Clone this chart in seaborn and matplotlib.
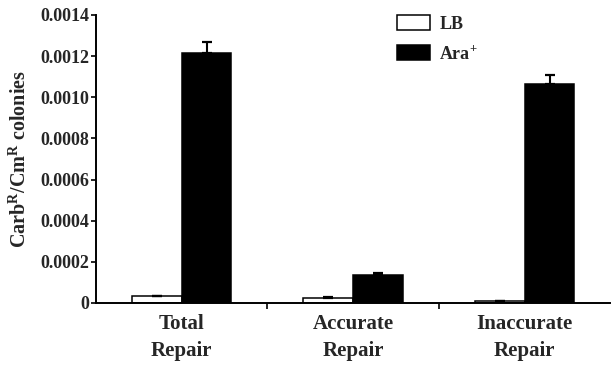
import matplotlib
matplotlib.use("Agg")
import matplotlib.pyplot as plt
import seaborn as sns
import pandas as pd
import numpy as np

# Values
categories = ["Total\nRepair", "Accurate\nRepair", "Inaccurate\nRepair"]
conditions = ["LB", "Ara$^{\\mathbf{+}}$"]
lbValues = [0.000033, 0.000026, 0.000008]
lbErrors = [0.000003, 0.000003, 0.000001]
araValues = [0.001217, 0.000134, 0.001065]
araErrors = [0.000050, 0.000010, 0.000044]
yTicks = [0, 0.0002, 0.0004, 0.0006, 0.0008, 0.0010, 0.0012, 0.0014]
yTickLabels = ["0", "0.0002", "0.0004", "0.0006", "0.0008", "0.0010", "0.0012", "0.0014"]

sns.set_theme(style = "ticks")
plt.rcParams["font.family"] = ["Liberation Serif", "DejaVu Serif"]
plt.rcParams["font.weight"] = "bold"
plt.rcParams["mathtext.fontset"] = "custom"
plt.rcParams["mathtext.rm"] = "Liberation Serif:bold"
plt.rcParams["mathtext.bf"] = "Liberation Serif:bold"
plt.rcParams["mathtext.it"] = "Liberation Serif:bold"

data = pd.DataFrame({
	"category": categories * 2,
	"condition": [conditions[0]] * 3 + [conditions[1]] * 3,
	"value": lbValues + araValues,
	"error": lbErrors + araErrors,
})

fig = plt.figure(figsize = (6.11, 3.67), dpi = 100)
ax = fig.add_axes([0.157, 0.1744, 0.842, 0.785])

sns.barplot(
	data = data,
	x = "category",
	y = "value",
	hue = "condition",
	order = categories,
	hue_order = conditions,
	palette = ["white", "black"],
	edgecolor = "black",
	linewidth = 1.1,
	width = 0.58,
	gap = 0,
	errorbar = None,
	ax = ax,
)

# error bars (upward only) placed on the bars seaborn drew
bars = [p for p in ax.patches if p.get_height() > 0]
for bar, err in zip(bars, lbErrors + araErrors):
	xc = bar.get_x() + bar.get_width() / 2
	ax.errorbar(xc, bar.get_height(), yerr = [[0], [err]], fmt = "none",
		ecolor = "black", elinewidth = 1.5, capsize = 3.5, capthick = 1.6)

ax.set_xlim(-0.5, 2.5)
ax.set_ylim(0, 0.0014)
ax.set_yticks(yTicks)
ax.set_yticklabels(yTickLabels, fontsize = 13, fontweight = "bold")
ax.set_xticks(range(len(categories)))
ax.set_xticklabels(categories, fontsize = 15, fontweight = "bold", linespacing = 1.45)
ax.tick_params(axis = "x", length = 0, pad = 8)
ax.set_xticks([0.5, 1.5], minor = True)
ax.tick_params(axis = "x", which = "minor", length = 4, width = 1.2, color = "black")
ax.tick_params(axis = "y", length = 3.5, width = 1.2, color = "black", pad = 1)
ax.set_xlabel("")
ax.set_ylabel("Carb$^{\\mathbf{R}}$/Cm$^{\\mathbf{R}}$ colonies", fontsize = 14.5, fontweight = "bold", labelpad = 7)

sns.despine(ax = ax)
for side in ["left", "bottom"]:
	ax.spines[side].set_linewidth(1.4)
	ax.spines[side].set_color("black")

ax.legend(loc = "upper left", bbox_to_anchor = (0.586, 1.0), frameon = False,
	prop = {"family": "Liberation Serif", "weight": "bold", "size": 13},
	handlelength = 1.83, handleheight = 0.89, labelspacing = 0.67, handletextpad = 0.5,
	borderpad = 0, borderaxespad = 0)

plt.savefig("out.png", dpi = 100)
